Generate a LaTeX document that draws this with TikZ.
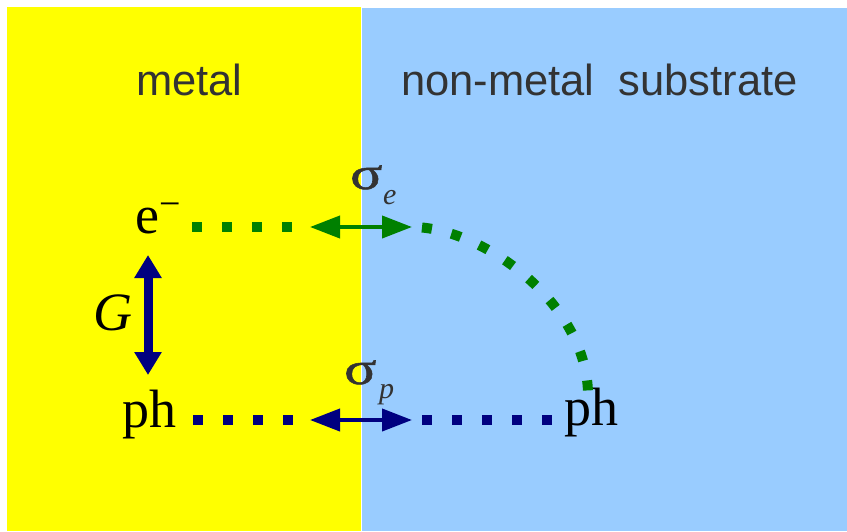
\documentclass[tikz,border=0pt]{standalone}
\usepackage{fontspec}
\usetikzlibrary{arrows.meta}
\newfontfamily\sansf{Liberation Sans}
\newfontfamily\seriff{Liberation Serif}
\newfontfamily\sigf[FakeBold=1]{Liberation Serif}
\definecolor{metalyellow}{HTML}{FFFF00}
\definecolor{subblue}{HTML}{99CCFF}
\definecolor{dgreen}{HTML}{008000}
\definecolor{navyb}{HTML}{000080}
\definecolor{txtgray}{HTML}{333333}
\begin{document}
\begin{tikzpicture}[x=1pt,y=-1pt,
  titletext/.style={font=\sansf\fontsize{43.5}{50}\selectfont, text=txtgray, inner sep=0pt, anchor=base west},
  symtext/.style={font=\seriff\fontsize{54}{60}\selectfont, text=black, inner sep=0pt, anchor=base west},
  sigtext/.style={font=\sigf\fontsize{46}{52}\selectfont, text=txtgray, inner sep=0pt, anchor=base west},
  subtext/.style={font=\seriff\itshape\fontsize{30}{34}\selectfont, text=txtgray, inner sep=0pt, anchor=base west},
  dotline/.style={line width=10pt, dash pattern=on 10pt off 20pt},
  dotlineb/.style={dotline, dash phase=20pt},
  harrow/.style={line width=4pt, {Triangle[length=30pt,width=22pt]}-{Triangle[length=30pt,width=22pt]}},
  varrow/.style={line width=9pt, {Triangle[length=23pt,width=26pt]}-{Triangle[length=23pt,width=26pt]}}]
\useasboundingbox (0,0) rectangle (847,531);
\fill[white] (0,0) rectangle (847,531);
\fill[metalyellow] (7,7) rectangle (361,531);
\fill[subblue] (362,8) rectangle (847,531);
% titles
\node[titletext] (metal) at (136,95) {metal};
\node[titletext] (sub) at (401,95) {non-metal\ \ substrate};
% labels
\node[symtext] (e) at (135,233) {e\raisebox{17pt}{\fontsize{38}{40}\selectfont −}};
\node[symtext] (phl) at (122,427) {ph};
\node[symtext] (phr) at (564,425) {ph};
\node[symtext, font=\seriff\itshape\fontsize{54}{60}\selectfont] (G) at (93,330) {G};
\node[sigtext] (sige) at (350,189) {\scalebox{1.3}[1]{σ}};
\node[subtext] (sube) at (383,204) {e};
\node[sigtext] (sigp) at (344,384) {\scalebox{1.3}[1]{σ}};
\node[subtext] (subp) at (379,398) {p};
% coordinates
\coordinate (eR) at (192,227);
\coordinate (ge1) at (310,227);
\coordinate (ge2) at (412,227);
\coordinate (phtop) at (588,392);
\coordinate (pR) at (193,420);
\coordinate (bp1) at (310,420);
\coordinate (bp2) at (412,420);
\coordinate (phL) at (555,420);
\coordinate (gv1) at (148,255);
\coordinate (gv2) at (148,375);
% green
\draw[dgreen, dotline] (eR) -- (ge1);
\draw[dgreen, harrow] (ge1) -- (ge2);
\draw[dgreen, dotlineb] (ge2) .. controls (480,227) and (585,300) .. (phtop);
% blue
\draw[navyb, dotline] (pR) -- (bp1);
\draw[navyb, harrow] (bp1) -- (bp2);
\draw[navyb, dotlineb] (bp2) -- (phL);
\draw[navyb, varrow] (gv1) -- (gv2);
\end{tikzpicture}
\end{document}
